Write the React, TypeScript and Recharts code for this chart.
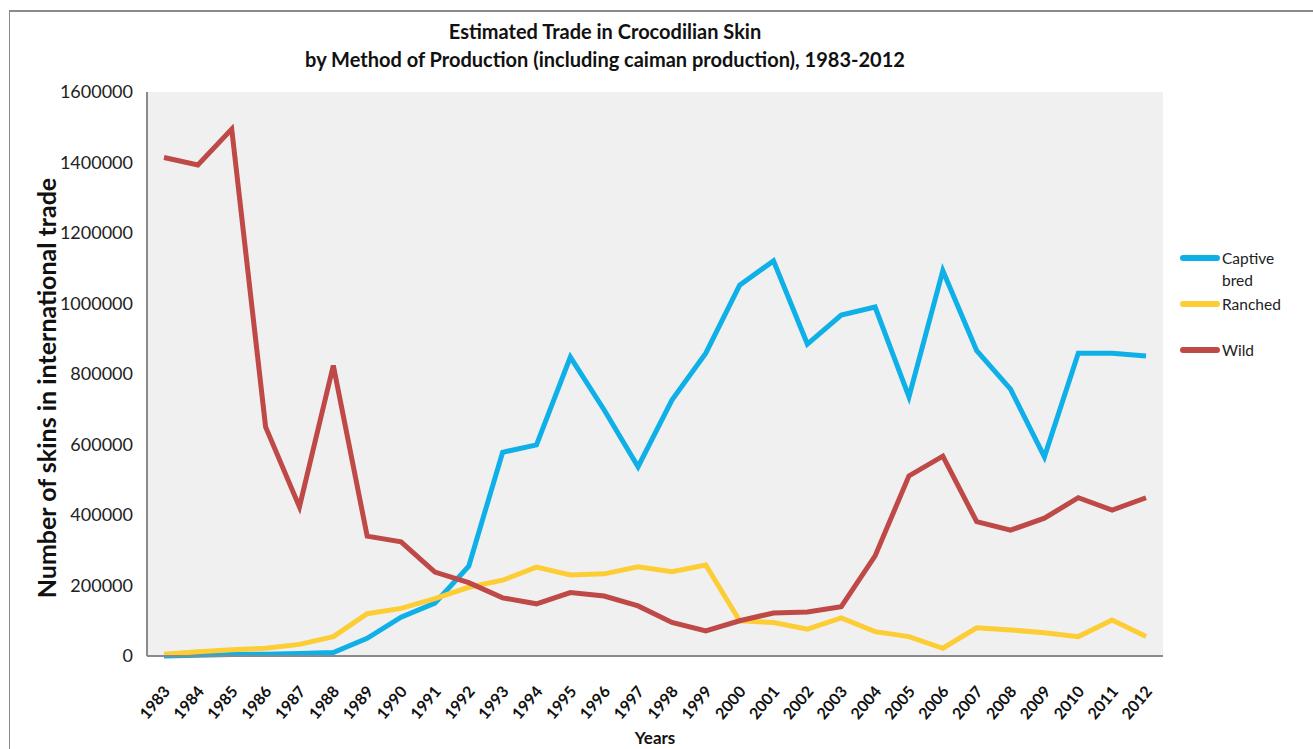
import { CartesianGrid, Line, LineChart, XAxis, YAxis } from "recharts";

const years = [
  "1983", "1984", "1985", "1986", "1987", "1988", "1989", "1990", "1991", "1992",
  "1993", "1994", "1995", "1996", "1997", "1998", "1999", "2000", "2001", "2002",
  "2003", "2004", "2005", "2006", "2007", "2008", "2009", "2010", "2011", "2012",
];

const captiveBred = [
  0, 2000, 4000, 5000, 7000, 10000, 50000, 110000, 150000, 255000,
  578000, 599000, 848000, 698000, 537000, 726000, 859000, 1052000, 1121000, 885000,
  967000, 990000, 735000, 1093000, 866000, 757000, 565000, 859000, 859000, 851000,
];

const ranched = [
  5000, 12000, 18000, 22000, 33000, 55000, 120000, 135000, 163000, 195000,
  215000, 252000, 230000, 233000, 253000, 239000, 258000, 100000, 95000, 76000,
  108000, 69000, 55000, 22000, 80000, 74000, 66000, 55000, 102000, 55000,
];

const wild = [
  1414000, 1393000, 1495000, 650000, 423000, 824000, 340000, 324000, 238000, 208000,
  165000, 148000, 180000, 170000, 142000, 95000, 71000, 100000, 122000, 125000,
  140000, 284000, 511000, 567000, 381000, 357000, 391000, 449000, 414000, 449000,
];

const yTicks = [0, 200000, 400000, 600000, 800000, 1000000, 1200000, 1400000, 1600000];

const series = [
  { key: "captive", label: ["Captive", "bred"], color: "#0fb0e8" },
  { key: "ranched", label: ["Ranched"], color: "#fdcd36" },
  { key: "wild", label: ["Wild"], color: "#be4946" },
];

const data = years.map((year, i) => ({
  year,
  captive: captiveBred[i],
  ranched: ranched[i],
  wild: wild[i],
}));

const FONT = "Lato, 'Open Sans', sans-serif";

// rotated year labels, end of text sits just right of / below the tick
function YearTick({ x, y, payload }: any) {
  const ax = x + 7;
  const ay = y + 28;
  return (
    <text
      x={ax}
      y={ay}
      textAnchor="end"
      transform={`rotate(-50 ${ax} ${ay})`}
      fontFamily={FONT}
      fontSize={16}
      fontWeight={700}
      fill="#111"
    >
      {payload.value}
    </text>
  );
}

export default function App() {
  return (
    <div style={{ position: "relative", width: 1313, height: 749, background: "#fff", overflow: "hidden" }}>
      <style>{`body{margin:0}`}</style>
      <div
        style={{
          position: "absolute",
          left: 9,
          top: 10,
          width: 1400,
          height: 800,
          borderTop: "2px solid #8a8a8a",
          borderLeft: "1px solid #8a8a8a",
        }}
      />
      <div
        style={{
          position: "absolute",
          left: 0,
          width: 1210,
          top: 17,
          textAlign: "center",
          fontFamily: FONT,
          fontWeight: 700,
          fontSize: 20,
          lineHeight: "28px",
          color: "#111",
        }}
      >
        <div>Estimated Trade in Crocodilian Skin</div>
        <div>by Method of Production (including caiman production), 1983-2012</div>
      </div>

      <LineChart
        width={1313}
        height={749}
        data={data}
        margin={{ top: 92, right: 150, bottom: 0, left: 0 }}
        style={{ position: "absolute", left: 0, top: 0 }}
      >
        <CartesianGrid horizontal={false} vertical={false} fill="#f0f0f0" />
        <XAxis
          dataKey="year"
          height={93}
          interval={0}
          padding={{ left: 17, right: 17 }}
          tick={<YearTick />}
          tickLine={false}
          axisLine={{ stroke: "#8a8a8a", strokeWidth: 2 }}
          label={{
            value: "Years",
            position: "insideBottom",
            offset: 5,
            style: { fontFamily: FONT, fontSize: 17, fontWeight: 700, fill: "#111" },
          }}
        />
        <YAxis
          width={147}
          domain={[0, 1600000]}
          ticks={yTicks}
          interval={0}
          tickLine={false}
          tickMargin={8}
          axisLine={{ stroke: "#8a8a8a", strokeWidth: 2 }}
          tick={{ fontFamily: FONT, fontSize: 18, fill: "#222" }}
        />
        {series.map((s) => (
          <Line
            key={s.key}
            dataKey={s.key}
            stroke={s.color}
            strokeWidth={5}
            dot={false}
            activeDot={false}
            isAnimationActive={false}
          />
        ))}
      </LineChart>

      <div
        style={{
          position: "absolute",
          left: 46,
          top: 388,
          transform: "translate(-50%, -50%) rotate(-90deg)",
          whiteSpace: "nowrap",
          fontFamily: FONT,
          fontSize: 25,
          fontWeight: 700,
          color: "#111",
          lineHeight: "30px",
        }}
      >
        Number of skins in international trade
      </div>

      <div style={{ position: "absolute", left: 1180, top: 247, fontFamily: FONT, fontSize: 15.5, color: "#222" }}>
        {series.map((s, i) => (
          <div
            key={s.key}
            style={{
              display: "flex",
              alignItems: "flex-start",
              height: i < 2 ? 46 : 22,
              lineHeight: "22px",
            }}
          >
            <span
              style={{
                display: "inline-block",
                width: 40,
                height: 6,
                borderRadius: 3,
                background: s.color,
                marginTop: 8,
                marginRight: 2,
              }}
            />
            <span>
              {s.label.map((l) => (
                <div key={l}>{l}</div>
              ))}
            </span>
          </div>
        ))}
      </div>
    </div>
  );
}
